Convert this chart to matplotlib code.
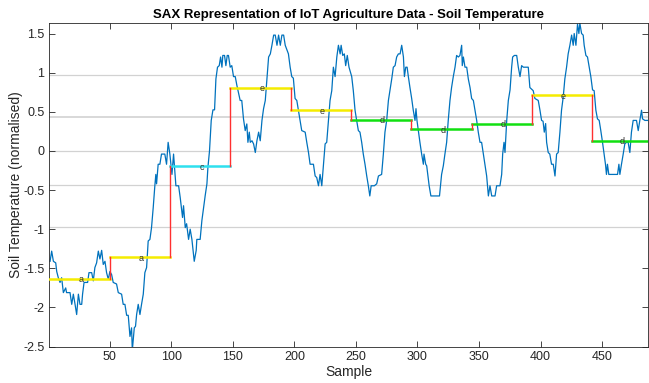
import numpy as np
import matplotlib.pyplot as plt

plt.rcParams['font.family'] = ['Liberation Sans', 'DejaVu Sans']

# soil temperature (normalised)
sample = [1.6, 2.9, 4.3, 6.2, 7.0, 8.3, 9.7, 11.0, 12.4, 14.3, 15.0, 17.8, 19.2, 20.5, 21.9, 23.2, 24.6, 25.9,
          27.3, 28.0, 29.2, 32.1, 33.2, 35.4, 36.7, 38.0, 39.4, 40.8, 42.1, 43.5, 44.8, 46.2, 47.5, 48.9,
          50.2, 51.6, 52.9, 55.6, 57.0, 59.7, 61.0, 62.4, 63.8, 65.1, 66.5, 67.8, 68.4, 70.0, 71.0, 71.9,
          73.2, 74.6, 75.9, 77.3, 78.6, 80.0, 81.3, 82.7, 84.0, 85.4, 86.7, 87.5, 88.1, 89.4, 90.8, 92.1,
          94.8, 96.2, 97.5, 98.9, 100.6, 101.9, 103.8, 106.0, 107.3, 109.2, 110.0, 111.4, 112.5, 114.1,
          115.4, 116.8, 118.7, 120.3, 120.8, 123.5, 124.9, 126.3, 127.6, 129.0, 129.8, 131.1, 132.5, 133.9,
          135.2, 136.3, 137.6, 139.0, 140.1, 141.2, 141.9, 143.3, 144.4, 145.5, 146.5, 147.9, 149.2, 150.6,
          152.0, 153.3, 156.0, 157.3, 158.7, 160.1, 161.4, 162.3, 163.4, 164.2, 165.6, 166.9, 168.3, 169.6,
          171.0, 172.3, 173.7, 175.0, 176.4, 177.7, 179.1, 180.5, 181.8, 183.2, 184.5, 185.9, 187.2, 188.6,
          189.9, 191.3, 192.6, 194.0, 195.2, 196.6, 197.9, 199.2, 200.6, 202.0, 203.3, 204.7, 206.0, 208.8,
          210.1, 211.5, 212.8, 215.5, 216.9, 218.2, 219.6, 220.9, 222.3, 223.6, 225.0, 226.3, 227.7, 229.0,
          230.4, 231.7, 233.1, 234.5, 235.8, 237.2, 238.0, 239.3, 240.6, 241.7, 243.0, 244.4, 246.6, 247.9,
          249.3, 250.6, 252.0, 253.3, 254.7, 256.0, 257.4, 258.8, 260.1, 261.3, 262.4, 265.0, 266.9, 268.3,
          270.9, 272.3, 273.6, 275.0, 276.4, 277.7, 279.1, 280.4, 281.8, 283.1, 284.5, 285.9, 287.2, 288.6,
          289.4, 290.5, 291.6, 292.6, 293.9, 295.3, 296.6, 298.0, 298.8, 299.6, 300.7, 302.0, 303.4, 304.8,
          305.3, 306.7, 307.5, 309.5, 310.9, 317.9, 319.6, 321.0, 322.3, 323.7, 325.0, 326.4, 327.7, 329.1,
          330.5, 331.8, 333.2, 334.5, 335.9, 336.4, 337.3, 338.6, 340.0, 341.3, 342.7, 344.0, 345.4, 346.7,
          348.1, 349.4, 350.8, 352.1, 353.5, 354.8, 356.2, 357.6, 358.9, 360.3, 363.0, 364.3, 367.0, 368.4,
          369.2, 370.3, 371.1, 372.5, 373.8, 375.2, 376.5, 377.3, 378.7, 380.6, 381.9, 383.3, 384.6, 386.0,
          390.0, 391.3, 392.7, 394.0, 395.4, 398.1, 399.5, 400.8, 402.0, 403.0, 404.1, 404.9, 406.2, 407.5,
          408.9, 410.3, 411.7, 413.0, 414.3, 415.7, 417.0, 418.4, 419.7, 421.1, 422.4, 423.8, 425.2, 426.5,
          427.3, 428.7, 430.0, 431.1, 431.9, 433.3, 434.6, 435.4, 436.8, 438.1, 439.5, 440.8, 442.2, 443.5,
          444.9, 446.2, 447.6, 448.9, 450.3, 451.6, 452.7, 453.5, 454.3, 455.4, 462.5, 463.6, 464.4, 465.7,
          467.1, 468.4, 469.8, 471.1, 472.5, 473.8, 475.2, 477.9, 479.3, 480.6, 482.0, 482.8, 484.7, 488.0]
soil_temp = [-1.41, -1.28, -1.41, -1.43, -1.54, -1.62, -1.68, -1.62, -1.81, -1.75, -1.81, -1.81, -1.96, -1.83,
             -1.96, -2.09, -1.83, -1.96, -1.96, -1.83, -1.68, -1.68, -1.555, -1.555, -1.66, -1.49, -1.43, -1.28,
             -1.38, -1.27, -1.45, -1.41, -1.555, -1.64, -1.54, -1.58, -1.68, -1.70, -1.81, -1.83, -1.96, -1.96,
             -2.10, -2.10, -2.37, -2.26, -2.55, -2.26, -2.24, -2.09, -1.96, -2.09, -1.96, -1.83, -1.555, -1.49,
             -1.15, -1.13, -0.98, -0.72, -0.445, -0.30, -0.42, -0.17, -0.17, -0.04, -0.04, -0.17, 0.11, -0.04,
             -0.30, -0.04, -0.445, -0.445, -0.595, -0.85, -0.70, -0.98, -0.93, -1.13, -1.00, -1.13, -1.41,
             -1.27, -1.13, -1.13, -0.89, -0.72, -0.57, -0.42, -0.21, 0.00, 0.39, 0.525, 0.525, 0.92, 1.07,
             1.09, 1.20, 1.07, 1.22, 1.22, 1.09, 1.22, 1.22, 1.07, 1.09, 0.95, 0.95, 0.84, 0.645, 0.645, 0.41,
             0.26, 0.345, 0.11, 0.24, 0.11, 0.13, 0.09, -0.02, 0.13, 0.24, 0.13, 0.39, 0.54, 0.645, 0.92, 1.20,
             1.24, 1.35, 1.48, 1.48, 1.35, 1.48, 1.35, 1.48, 1.48, 1.35, 1.29, 1.24, 1.07, 0.95, 0.93, 0.67,
             0.645, 0.52, 0.39, 0.26, 0.24, 0.11, -0.02, -0.17, -0.17, -0.32, -0.34, -0.445, -0.30, -0.445,
             -0.19, 0.09, 0.11, 0.39, 0.645, 0.77, 1.07, 0.95, 1.20, 1.35, 1.24, 1.35, 1.22, 1.24, 1.09, 1.22,
             1.07, 0.95, 0.77, 0.52, 0.39, 0.26, 0.24, 0.11, -0.04, -0.17, -0.32, -0.445, -0.575, -0.445,
             -0.445, -0.42, -0.32, -0.30, -0.04, 0.24, 0.39, 0.645, 0.78, 0.92, 1.07, 1.09, 1.20, 1.24, 1.24,
             1.35, 1.20, 0.95, 1.07, 1.07, 0.95, 0.81, 0.67, 0.52, 0.39, 0.54, 0.39, 0.26, 0.11, -0.04, -0.17,
             -0.04, -0.17, -0.19, -0.445, -0.575, -0.575, -0.30, -0.19, -0.04, 0.11, 0.39, 0.645, 0.81, 0.95,
             1.07, 1.22, 1.20, 1.22, 1.35, 1.09, 1.20, 1.07, 1.07, 0.92, 0.81, 0.67, 0.645, 0.52, 0.39, 0.24,
             0.11, 0.11, -0.04, -0.17, -0.32, -0.575, -0.445, -0.575, -0.575, -0.445, -0.445, -0.30, -0.04,
             0.11, -0.02, 0.39, 0.645, 0.78, 1.07, 1.20, 1.22, 1.22, 1.07, 0.95, 1.09, 1.07, 1.07, 0.81, 0.79,
             0.77, 0.67, 0.645, 0.52, 0.39, 0.38, 0.24, 0.35, 0.11, -0.02, -0.04, -0.17, -0.17, -0.32, -0.04,
             -0.02, 0.24, 0.52, 0.69, 0.92, 1.07, 1.24, 1.35, 1.48, 1.35, 1.50, 1.35, 1.62, 1.50, 1.63, 1.50,
             1.48, 1.35, 1.22, 1.20, 1.07, 0.95, 0.78, 0.77, 0.52, 0.41, 0.39, 0.26, 0.11, -0.04, -0.17, -0.30,
             -0.17, -0.30, -0.30, -0.17, -0.30, -0.17, -0.04, 0.09, 0.11, 0.11, -0.02, 0.24, 0.39, 0.39, 0.26,
             0.39, 0.52, 0.41, 0.39, 0.39]

# SAX segments
seg_edges = [1, 50, 99, 148, 197, 246, 295, 344, 393, 442, 488]
seg_levels = [-1.633, -1.359, -0.197, 0.803, 0.517, 0.397, 0.277, 0.35, 0.709, 0.128]
seg_letters = ['a', 'a', 'c', 'e', 'e', 'd', 'd', 'd', 'e', 'd']
seg_colors = ['#f5ec00', '#f5ec00', '#2ee0ee', '#f5ec00', '#f5ec00', '#11e011', '#11e011', '#11e011', '#f5ec00', '#11e011']

# breakpoints for alphabet size 6
breakpoints = [-0.967, -0.43, 0.0, 0.43, 0.967]

fig = plt.figure(figsize=(6.49, 3.83), dpi=100)
ax = fig.add_axes([0.076, 0.095, 0.922, 0.844])

for b in breakpoints:
	ax.axhline(b, color='#d2d2d2', linewidth=1.2 if b == 0.43 else 0.9, zorder=0)

ax.plot(sample, soil_temp, color='#0072bd', linewidth=0.9, zorder=2)

for i in range(len(seg_levels)):
	x0, x1 = seg_edges[i], seg_edges[i + 1]
	ax.plot([x0, x1], [seg_levels[i], seg_levels[i]], color=seg_colors[i], linewidth=1.8, zorder=3)
	if i > 0:
		ax.plot([x0, x0], [seg_levels[i - 1], seg_levels[i]], color='#ff3030', linewidth=1.0, zorder=3)
	ax.text((x0 + x1) / 2 + 1, seg_levels[i] - 0.01, seg_letters[i], fontsize=6.5, color='#333333',
		ha='center', va='center', zorder=4)

ax.set_xlim(1, 487)
ax.set_ylim(-2.5, 1.63)
ax.set_xticks([50, 100, 150, 200, 250, 300, 350, 400, 450])
ax.set_yticks([-2.5, -2, -1.5, -1, -0.5, 0, 0.5, 1, 1.5])
ax.set_yticklabels(['-2.5', '-2', '-1.5', '-1', '-0.5', '0', '0.5', '1', '1.5'])
ax.tick_params(direction='in', top=True, right=True, labelsize=9, length=4, color='#262626',
	labelcolor='#262626', width=0.6)
for s in ax.spines.values():
	s.set_color('#262626')
	s.set_linewidth(0.6)

ax.set_xlabel('Sample', fontsize=10, color='#262626', labelpad=1)
ax.set_ylabel('Soil Temperature (normalised)', fontsize=10, color='#262626', labelpad=0)
ax.set_title('SAX Representation of IoT Agriculture Data - Soil Temperature', fontsize=9.5,
	fontweight='bold', pad=4)

fig.savefig('out.png', dpi=100)
